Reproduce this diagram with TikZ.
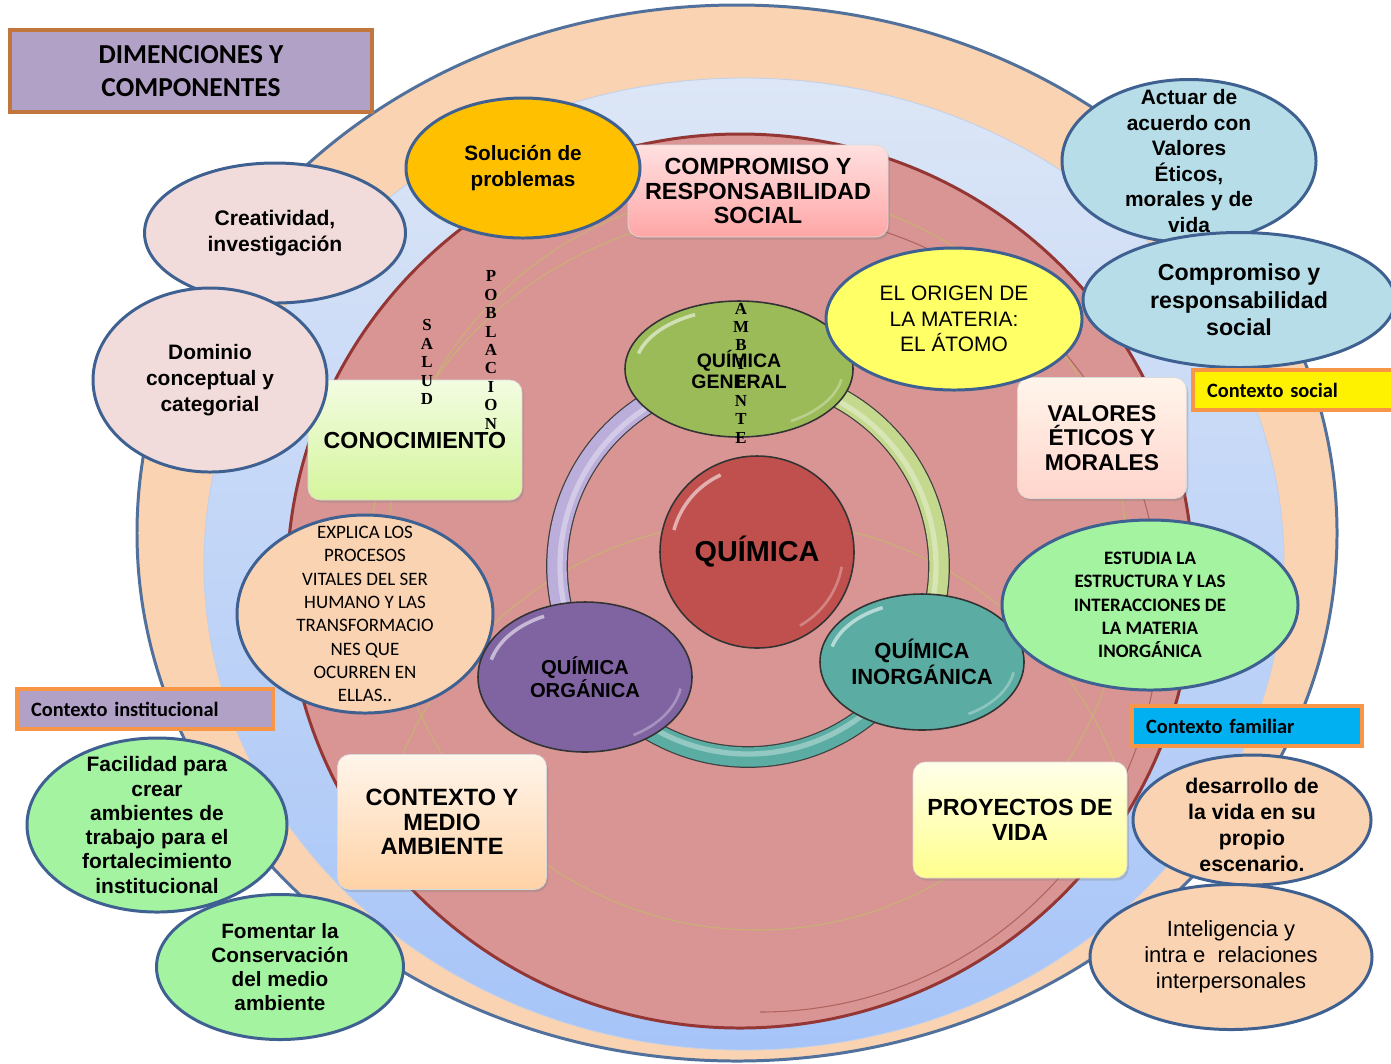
\documentclass[tikz,border=0pt]{standalone}
\usepackage{fontspec}
\setmainfont{Liberation Sans}
\newfontfamily\calibri{Carlito}
\newfontfamily\tnr{Liberation Serif}
\usetikzlibrary{shapes.geometric,shadows}
\newcommand\fsz[2]{\fontsize{#1}{#2}\selectfont}

\definecolor{peach}{HTML}{FAD3B2}
\definecolor{skyA}{HTML}{DCE6F6}
\definecolor{skyB}{HTML}{A6C4F8}
\definecolor{rose}{HTML}{D99594}
\definecolor{roseline}{HTML}{943634}
\definecolor{rim}{HTML}{3E6191}
\definecolor{orangeline}{HTML}{F79646}
\definecolor{clay}{HTML}{C0763C}
\definecolor{lilac}{HTML}{B2A1C7}
\definecolor{mint}{HTML}{A3F3A0}
\definecolor{pinkbub}{HTML}{F2DCDB}
\definecolor{aqua}{HTML}{B7DEE8}
\definecolor{gold}{HTML}{FFC000}
\definecolor{lemon}{HTML}{FFFF66}
\definecolor{olive}{HTML}{9BBB59}
\definecolor{brick}{HTML}{C0504D}
\definecolor{grape}{HTML}{8064A2}
\definecolor{tealc}{HTML}{5BADA3}
\definecolor{lavring}{HTML}{BBAEDB}
\definecolor{leafring}{HTML}{C4D88E}
\definecolor{straw}{HTML}{C8B273}
\definecolor{rust}{HTML}{B0645E}
\definecolor{cyanbox}{HTML}{00B0F0}
\definecolor{sprout}{HTML}{D5F59C}

\begin{document}
\begin{tikzpicture}[x=0.02cm, y=-0.02cm,
    bub/.style={ellipse, draw=rim, line width=1.7pt, inner sep=0pt},
    gem/.style={ellipse, draw=black!80, line width=0.9pt, inner sep=0pt},
    card/.style={rectangle, rounded corners=7pt, draw=black!15, align=center, inner sep=2pt,
        drop shadow={opacity=.3, shadow xshift=1pt, shadow yshift=-1.5pt}},
    tag/.style={rectangle, draw=orangeline, line width=1.8pt, inner xsep=0.28cm, align=left,
        minimum height=0.8cm, font=\calibri\bfseries\fsz{11.6}{14}},
    dims/.style 2 args={minimum width=#1*0.02cm, minimum height=#2*0.02cm},
    txt/.style={align=center, inner sep=0pt},
    spell/.style={align=center, inner sep=0pt, font=\tnr\bfseries\fsz{9.6}{10.5}},
    thread/.style={line width=0.6pt}]

    \useasboundingbox (0,0) rectangle (1391,1063);

    \filldraw[fill=peach, draw=rim!90, line width=1.7pt] (737,533) ellipse [x radius=600, y radius=528];
    \shade[top color=skyA, bottom color=skyB] (744,564) ellipse [x radius=540, y radius=486];
    \draw[skyB!80!black!30!skyA, line width=0.5pt] (744,564) ellipse [x radius=540, y radius=486];
    \filldraw[fill=rose, draw=roseline, line width=1.7pt] (740,581) ellipse [x radius=453, y radius=447];

    \begin{scope}
        \clip (740,581) ellipse [x radius=451, y radius=445];
        \draw[thread, straw] (757,560) circle [radius=370];
        \draw[thread, straw] (760,612) ++(180:400) arc[start angle=180, end angle=270, radius=400];
        \draw[thread, rust] (760,612) ++(270:400) arc[start angle=270, end angle=450, radius=400];
        \draw[thread, straw] (757,905) ++(200:385) arc[start angle=200, end angle=340, radius=385];
    \end{scope}

    \foreach \a/\b/\c in {35/145/tealc, 145/265/lavring, 265/395/leafring} {
        \draw[black!75, line width=12.4pt] (748,566) ++(\a:191) arc[start angle=\a, end angle=\b, radius=191];
        \draw[\c, line width=11pt] (748,566) ++(\a:191) arc[start angle=\a, end angle=\b, radius=191];
        \draw[white, opacity=.35, line width=3pt] (748,566) ++(\a:188) arc[start angle=\a, end angle=\b, radius=188];
    }

    \node[card, top color=red!12, bottom color=red!35!white, dims={260}{92}, font=\bfseries\fsz{13.3}{13.9}]
        (compromiso) at (758,191) {COMPROMISO Y\\RESPONSABILIDAD\\SOCIAL};
    \node[card, top color=sprout!30, bottom color=sprout, dims={214}{120}, font=\bfseries\fsz{13.2}{14}]
        (conocimiento) at (415,440) {CONOCIMIENTO};
    \node[card, top color=orange!8, bottom color=orange!35!red!20, dims={169}{121}, font=\bfseries\fsz{13}{13.9}]
        (valores) at (1102,438) {VALORES\\ÉTICOS Y\\MORALES};
    \node[card, top color=orange!8, bottom color=orange!35, dims={209}{135}, font=\bfseries\fsz{13.4}{13.9}]
        (medio) at (442,822) {CONTEXTO Y\\MEDIO\\AMBIENTE};
    \node[card, top color=yellow!8, bottom color=yellow!45, dims={214}{116}, font=\bfseries\fsz{13.3}{14.2}]
        (proyectos) at (1020,820) {PROYECTOS DE\\VIDA};

    \node[bub, fill=gold, dims={234}{140}] (solucion) at (523,168) {};
    \node[txt, font=\bfseries\fsz{11.8}{15.3}] (solucion-t) at (solucion) {Solución de\\problemas};
    \node[bub, fill=pinkbub, dims={261}{140}] (creatividad) at (275,233) {};
    \node[txt, font=\bfseries\fsz{12}{14.7}] (creatividad-t) at (creatividad) {Creatividad,\\investigación};
    \node[bub, fill=pinkbub, dims={234}{184}] (dominio) at (210,380) {};
    \node[txt, font=\bfseries\fsz{11.9}{14.7}] (dominio-t) at (dominio) {Dominio\\conceptual y\\categorial};

    \node[gem, fill=olive, dims={228}{136}] (qgen) at (739,369) {};
    \node[txt, font=\bfseries\fsz{11.1}{11.9}] (qgen-t) at (qgen) {QUÍMICA\\GENERAL};
    \node[bub, fill=lemon, dims={256}{142}] (origen) at (954,319) {};
    \node[txt, font=\fsz{11.9}{14.5}] (origen-t) at (origen) {EL ORIGEN DE\\LA MATERIA:\\EL ÁTOMO};

    \node[bub, fill=aqua, dims={254}{163}] (actuar) at (1189,161) {};
    \node[txt, font=\bfseries\fsz{11.9}{14.6}] (actuar-t) at (actuar) {Actuar de\\acuerdo con\\Valores\\Éticos,\\morales y de\\vida};
    \node[bub, fill=aqua, dims={312}{135}] (social) at (1239,300) {};
    \node[txt, font=\bfseries\fsz{13.2}{15.6}] (social-t) at (social) {Compromiso y\\responsabilidad\\social};

    \node[gem, fill=brick, dims={194}{192}] (quimica) at (757,552) {};
    \node[txt, font=\bfseries\fsz{16.4}{18}] (quimica-t) at (quimica) {QUÍMICA};

    \node[bub, fill=peach, dims={256}{198}] (explica) at (365,614) {};
    \node[txt, font=\calibri\fsz{10.8}{13.3}] (explica-t) at (explica) {EXPLICA LOS\\PROCESOS\\VITALES DEL SER\\HUMANO Y LAS\\TRANSFORMACIO\\NES QUE\\OCURREN EN\\ELLAS..};
    \node[gem, fill=grape, dims={214}{150}] (qorg) at (585,677) {};
    \node[txt, font=\bfseries\fsz{11.5}{11.9}] (qorg-t) at (qorg) {QUÍMICA\\ORGÁNICA};

    \node[gem, fill=tealc, dims={204}{136}] (qinorg) at (922,662) {};
    \node[txt, font=\bfseries\fsz{12.5}{12.5}] (qinorg-t) at (qinorg) {QUÍMICA\\INORGÁNICA};
    \node[bub, fill=mint, dims={296}{170}] (estudia) at (1150,605) {};
    \node[txt, font=\calibri\bfseries\fsz{10.8}{13.3}] (estudia-t) at (estudia) {ESTUDIA LA\\ESTRUCTURA Y LAS\\INTERACCIONES DE\\LA MATERIA\\INORGÁNICA};

    % glossy rim on the four chemistry balls
    \foreach \cx/\cy/\rx/\ry in {739/369/104/60, 757/552/86/85, 585/677/97/67, 922/662/93/60} {
        \draw[white, opacity=.55, line width=2pt] (\cx,\cy) ++(195:{\rx} and {\ry})
            arc[start angle=195, end angle=245, x radius=\rx, y radius=\ry];
        \draw[white, opacity=.3, line width=1.5pt] (\cx,\cy) ++(10:{\rx} and {\ry})
            arc[start angle=10, end angle=60, x radius=\rx, y radius=\ry];
    }

    \node[bub, fill=mint, dims={260}{174}] (facilidad) at (157,825) {};
    \node[txt, font=\bfseries\fsz{11.9}{13.8}] (facilidad-t) at (facilidad) {Facilidad para\\crear\\ambientes de\\trabajo para el\\fortalecimiento\\institucional};
    \node[bub, fill=mint, dims={247}{145}] (fomentar) at (280,967) {};
    \node[txt, font=\bfseries\fsz{11.8}{13.8}] (fomentar-t) at (fomentar) {Fomentar la\\Conservación\\del medio\\ambiente};

    \node[bub, fill=peach, dims={238}{130}] (desarrollo) at (1252,820) {};
    \node[txt, font=\bfseries\fsz{12.1}{14.7}] (desarrollo-t) at (1252,825) {desarrollo de\\la vida en su\\propio\\escenario.};
    \node[bub, fill=peach, dims={282}{145}] (inteligencia) at (1231,957) {};
    \node[txt, font=\fsz{12.5}{14.7}] (inteligencia-t) at (inteligencia) {Inteligencia y\\intra e\ \ relaciones\\interpersonales};

    \node[rectangle, draw=clay, line width=1.8pt, fill=lilac, dims={362}{82}, align=center,
        font=\calibri\bfseries\fsz{15.6}{18.7}] (titulo) at (191,71) {DIMENCIONES Y\\COMPONENTES};
    \node[tag, fill=yellow, text width=3.48cm] (ctxsocial) at (1294,390) {Contexto social};
    \node[tag, fill=lilac, text width=4.56cm] (ctxinst) at (145,709) {Contexto institucional};
    \node[tag, fill=cyanbox, text width=4.04cm] (ctxfam) at (1247,726) {Contexto familiar};

    \node[spell] (salud) at (427,362) {S\\A\\L\\U\\D};
    \node[spell] (poblacion) at (491,350) {P\\O\\B\\L\\A\\C\\I\\O\\N};
    \node[spell] (ambiente) at (741,373) {A\\M\\B\\I\\E\\N\\T\\E};
\end{tikzpicture}
\end{document}
